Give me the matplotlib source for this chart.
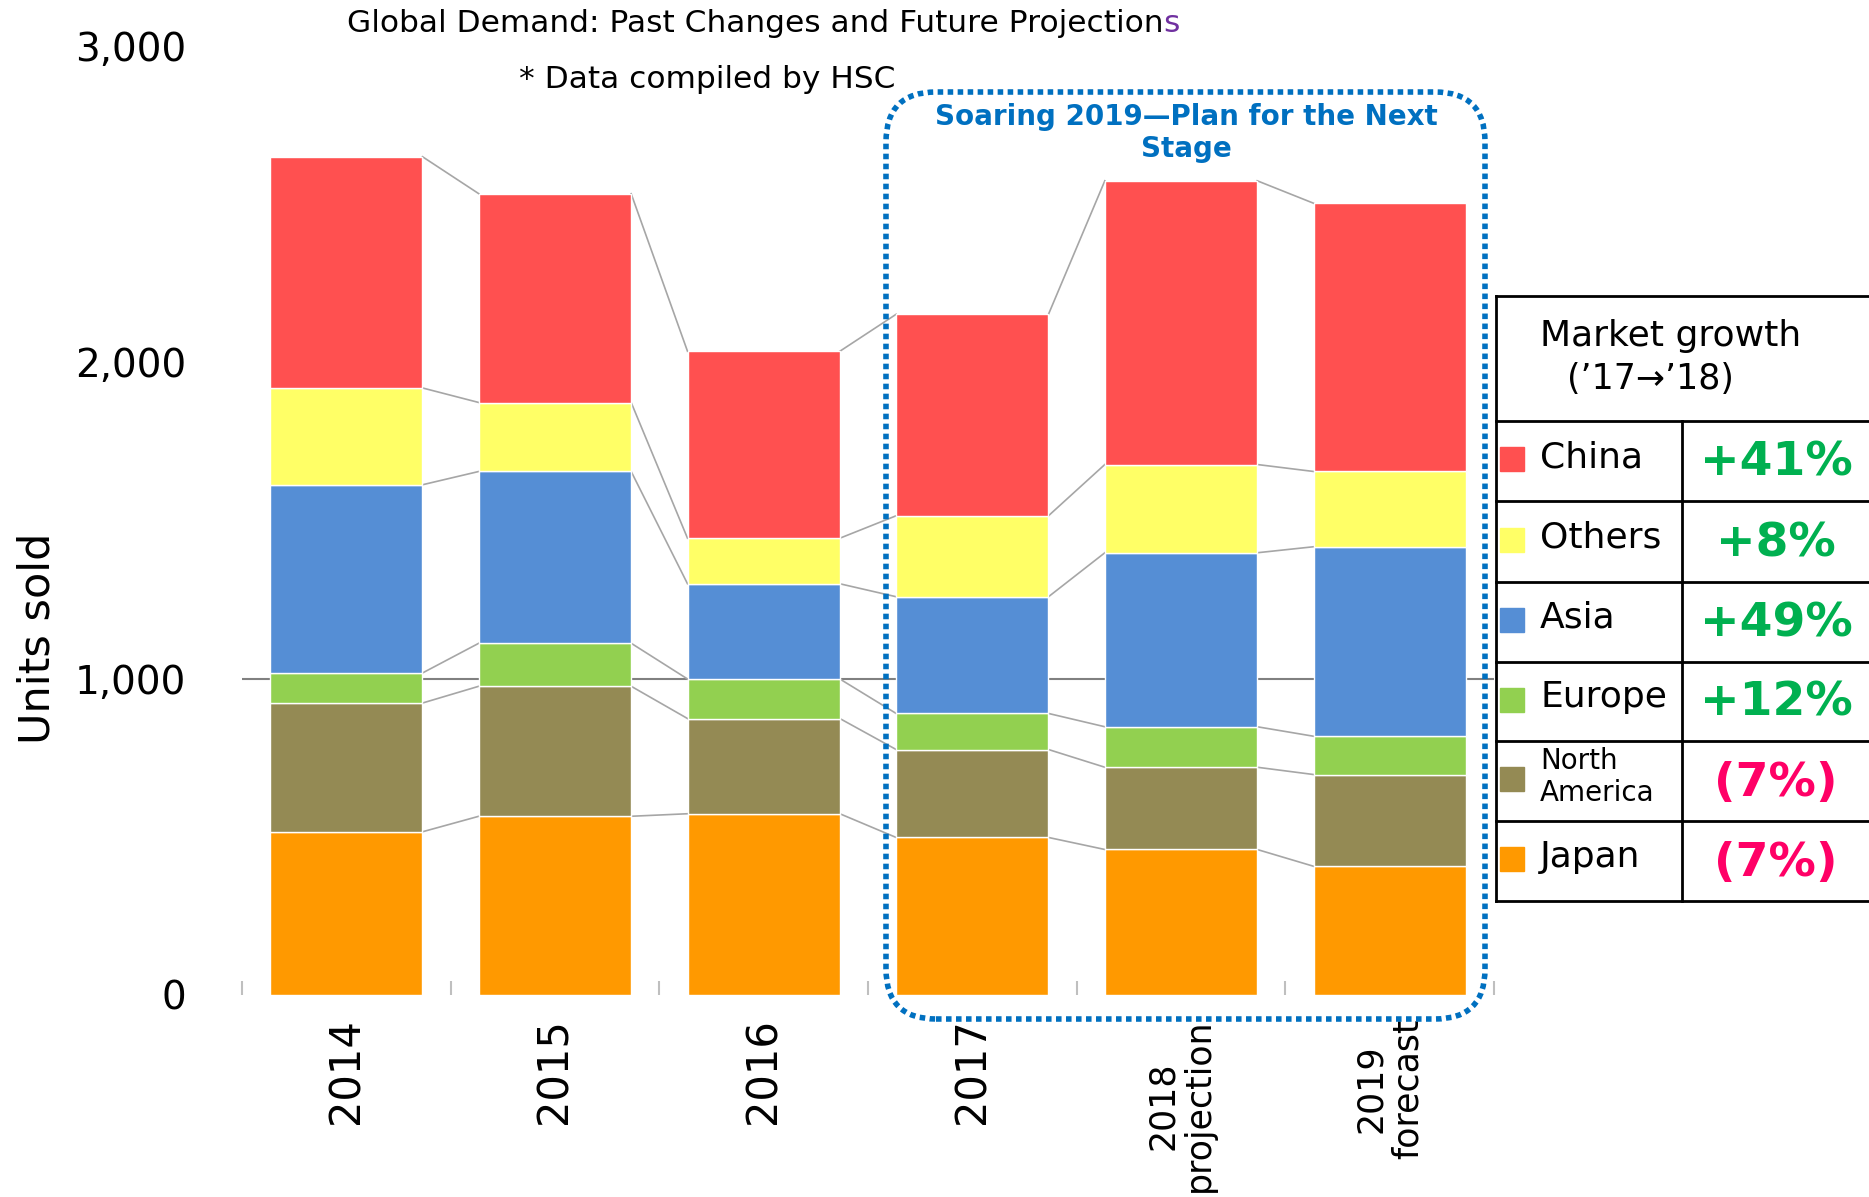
import matplotlib
matplotlib.use('Agg')
import matplotlib.pyplot as plt
from matplotlib.patches import FancyBboxPatch, Rectangle
from matplotlib.lines import Line2D
import numpy as np

# data (units sold, stacked bottom -> top)
years = ['2014', '2015', '2016', '2017', '2018\nprojection', '2019\nforecast']
japan = [516, 565, 573, 498, 460, 407]
north_america = [407, 411, 301, 278, 260, 290]
europe = [95, 136, 125, 114, 128, 121]
asia = [595, 543, 301, 369, 550, 599]
others = [306, 218, 144, 256, 279, 238]
china = [731, 660, 591, 637, 897, 848]

series = [japan, north_america, europe, asia, others, china]
colors = ['#ff9900', '#948a54', '#92d050', '#558ed5', '#ffff66', '#ff5050']

growth_regions = ['China', 'Others', 'Asia', 'Europe', 'North\nAmerica', 'Japan']
growth_values = ['+41%', '+8%', '+49%', '+12%', '(7%)', '(7%)']
growth_colors = ['#ff5050', '#ffff66', '#558ed5', '#92d050', '#948a54', '#ff9900']

W, H = 1869, 1197
fig = plt.figure(figsize=(W / 100, H / 100), dpi=100)
ax = fig.add_axes([242 / W, 1 - 995 / H, (1494 - 242) / W, (995 - 46) / H])

x = np.arange(len(years))
bw = 0.73
bottom = np.zeros(len(years))
levels = []
for vals, c in zip(series, colors):
    ax.bar(x, vals, bw, bottom=bottom, color=c, edgecolor='white', linewidth=1, zorder=2)
    bottom = bottom + np.array(vals)
    levels.append(bottom.copy())

# connector lines between neighbouring bars
for lev in levels:
    for i in range(len(years) - 1):
        ax.plot([x[i] + bw / 2, x[i + 1] - bw / 2], [lev[i], lev[i + 1]],
                color='#a6a6a6', lw=1.2, zorder=1)

ax.axhline(1000, color='#808080', lw=1.5, zorder=0)

ax.set_xlim(-0.5, len(years) - 0.5)
ax.set_ylim(0, 3000)
for s in ax.spines.values():
    s.set_visible(False)
ax.set_yticks([0, 1000, 2000, 3000])
ax.set_yticklabels(['0', '1,000', '2,000', '3,000'])
ax.tick_params(axis='y', length=0, pad=40, labelsize=28)
ax.set_xticks(x)
ax.set_xticklabels(years, rotation=90, fontsize=30, multialignment='center', linespacing=1.1)
for lbl in ax.get_xticklabels():
    if '\n' in lbl.get_text():
        lbl.set_fontsize(25)
ax.tick_params(axis='x', length=0, pad=17)
ax.set_xticks(np.arange(-0.5, len(years)), minor=True)
ax.tick_params(axis='x', which='minor', direction='in', length=10, color='#bfbfbf', width=1.5)

fig.text(37 / W, 1 - 638 / H, 'Units sold', rotation=90, ha='center', va='center',
         fontsize=31, family=['Liberation Sans Narrow', 'DejaVu Sans'])

t = fig.text(755 / W, 1 - 24 / H, 'Global Demand: Past Changes and Future Projection',
             ha='center', va='center', fontsize=22.5)
ax.annotate('s', xy=(1, 0), xycoords=t, va='bottom', ha='left', fontsize=22.5, color='#7030a0')
fig.text(707 / W, 1 - 79 / H, '* Data compiled by HSC', ha='center', va='center', fontsize=22.5)

# dotted highlight box
inch = fig.dpi_scale_trans
box = FancyBboxPatch((886 / 100, (H - 1019) / 100), 599 / 100, 927 / 100,
                     boxstyle='round,pad=0,rounding_size=0.5', transform=inch,
                     fill=False, edgecolor='#0070c0', lw=4, linestyle=(0, (1, 0.8)), zorder=5)
fig.add_artist(box)
fig.text(1186 / W, 1 - 133 / H, 'Soaring 2019\u2014Plan for the Next\nStage', ha='center', va='center',
         fontsize=20, fontweight='bold', color='#0070c0', linespacing=1.2)

# growth table
def hline(y, x0, x1):
    fig.add_artist(Line2D([x0 / W, x1 / W], [1 - y / H, 1 - y / H], color='black', lw=2))

def vline(xp, y0, y1):
    fig.add_artist(Line2D([xp / W, xp / W], [1 - y0 / H, 1 - y1 / H], color='black', lw=2))

row_edges = [296, 421, 501, 582, 662, 741, 821, 901]
for y in row_edges:
    hline(y, 1496, W)
vline(1496, 296, 901)
vline(1682, 421, 901)

fig.text(1540 / W, 1 - 336 / H, 'Market growth', ha='left', va='center', fontsize=26)
fig.text(1650 / W, 1 - 379 / H, '(\u201917\u2192\u201918)', ha='center', va='center', fontsize=25)

for k, (reg, val, c) in enumerate(zip(growth_regions, growth_values, growth_colors)):
    yc = (row_edges[k + 1] + row_edges[k + 2]) / 2
    fig.add_artist(Rectangle((1500 / W, 1 - (yc + 10) / H), 24 / W, 24 / H,
                             transform=fig.transFigure, color=c))
    fs = 20 if '\n' in reg else 26
    fig.text(1540 / W, 1 - (yc - 4) / H, reg, ha='left', va='center', fontsize=fs, linespacing=1.15)
    vc = '#00b050' if val.startswith('+') else '#ff0066'
    fig.text(1776 / W, 1 - (yc + 2) / H, val, ha='center', va='center', fontsize=34,
             fontweight='bold', color=vc)

fig.savefig('out.png', dpi=100)
